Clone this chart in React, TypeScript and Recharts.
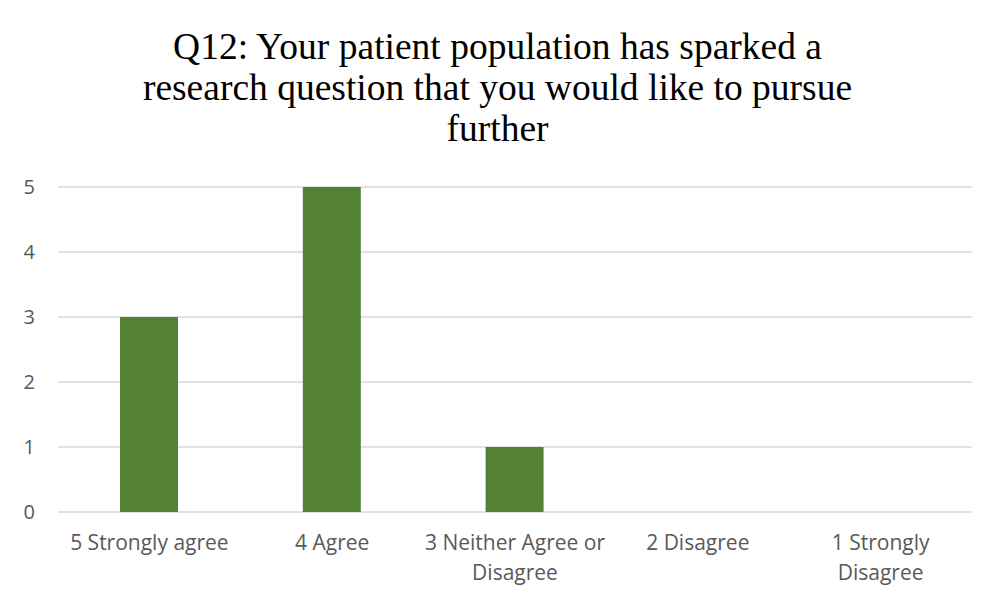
import { BarChart, Bar, XAxis, YAxis, CartesianGrid } from "recharts";

const categories = [
  "5 Strongly agree",
  "4 Agree",
  "3 Neither Agree or Disagree",
  "2 Disagree",
  "1 Strongly Disagree",
];
const responses = [3, 5, 1, 0, 0];
const tickLabels = [
  ["5 Strongly agree"],
  ["4 Agree"],
  ["3 Neither Agree or", "Disagree"],
  ["2 Disagree"],
  ["1 Strongly", "Disagree"],
];
const yTicks = [0, 1, 2, 3, 4, 5];
const titleLines = [
  "Q12: Your patient population has sparked a",
  "research question that you would like to pursue",
  "further",
];

const chartData = categories.map((c, i) => ({ category: c, count: responses[i] }));

const labelFont = "'Open Sans', sans-serif";

function CategoryTick(props: any) {
  const { x, y, payload } = props;
  const lines = tickLabels[payload.index] || [payload.value];
  return (
    <text
      x={x}
      y={y}
      textAnchor="middle"
      fill="#595959"
      fontSize={21}
      fontFamily={labelFont}
    >
      {lines.map((line, i) => (
        <tspan key={i} x={x} dy={i === 0 ? 36 : 30}>
          {line}
        </tspan>
      ))}
    </text>
  );
}

export default function App() {
  return (
    <div
      style={{
        position: "relative",
        width: 995,
        height: 601,
        margin: -8,
        overflow: "hidden",
        background: "#fff",
      }}
    >
      <div
        style={{
          position: "absolute",
          left: 6,
          top: 5,
          width: 1000,
          height: 620,
          border: "2px solid #d9d9d9",
          boxSizing: "border-box",
        }}
      />
      <div
        style={{
          position: "absolute",
          left: 0,
          top: 26,
          width: 995,
          textAlign: "center",
          fontFamily: "'Liberation Serif', 'Times New Roman', serif",
          fontSize: 37.5,
          lineHeight: "41px",
          color: "#000",
        }}
      >
        {titleLines.map((t, i) => (
          <div key={i}>{t}</div>
        ))}
      </div>
      <div style={{ position: "absolute", left: 0, top: 0 }}>
        <BarChart
          width={995}
          height={601}
          data={chartData}
          margin={{ top: 187, right: 23, left: 18, bottom: 0 }}
        >
          <CartesianGrid
            vertical={false}
            stroke="#d9d9d9"
            strokeWidth={1.5}
          />
          <XAxis
            dataKey="category"
            axisLine={false}
            tickLine={false}
            tickSize={0}
            height={89}
            interval={0}
            tick={<CategoryTick />}
          />
          <YAxis
            domain={[0, 5]}
            ticks={yTicks}
            axisLine={false}
            tickLine={false}
            tickSize={0}
            tickMargin={23}
            width={40}
            tick={{ fill: "#595959", fontSize: 20, fontFamily: labelFont }}
          />
          <Bar
            dataKey="count"
            fill="#548235"
            barSize={58}
            isAnimationActive={false}
          />
        </BarChart>
      </div>
    </div>
  );
}
